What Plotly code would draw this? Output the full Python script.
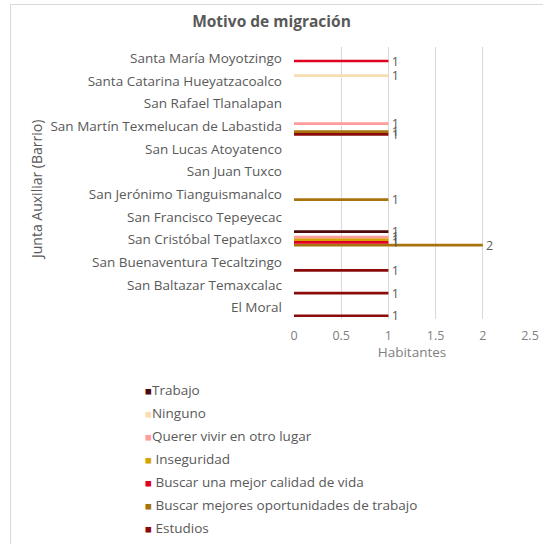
import plotly.graph_objects as go

categories = [
    "El Moral",
    "San Baltazar Temaxcalac",
    "San Buenaventura Tecaltzingo",
    "San Cristóbal Tepatlaxco",
    "San Francisco Tepeyecac",
    "San Jerónimo Tianguismanalco",
    "San Juan Tuxco",
    "San Lucas Atoyatenco",
    "San Martín Texmelucan de Labastida",
    "San Rafael Tlanalapan",
    "Santa Catarina Hueyatzacoalco",
    "Santa María Moyotzingo",
]

# series in plotting order (first = bottom of each group)
series_names = [
    " Estudios",
    " Buscar mejores oportunidades de trabajo",
    " Buscar una mejor calidad de vida",
    " Inseguridad",
    "Querer vivir en otro lugar",
    "Ninguno",
    "Trabajo",
]

estudios       = [1, 1, 1, None, None, None, None, None, 1, None, None, None]
oportunidades  = [None, None, None, 2, None, 1, None, None, 1, None, None, None]
calidad        = [None, None, None, 1, None, None, None, None, None, None, None, 1]
inseguridad    = [None, None, None, 1, None, None, None, None, None, None, None, None]
querer         = [None, None, None, 1, None, None, None, None, 1, None, None, None]
ninguno        = [None, None, None, None, None, None, None, None, None, None, 1, None]
trabajo        = [None, None, None, 1, None, None, None, None, None, None, None, None]

series_values = [estudios, oportunidades, calidad, inseguridad, querer, ninguno, trabajo]
series_colors = ["#8B0A0A", "#A8720C", "#E0001F", "#D6A200", "#FF9C9C", "#F8DDB3", "#4E0A0A"]
legend_ranks = [7, 6, 5, 4, 3, 2, 1]

x_ticks = [0, 0.5, 1, 1.5, 2, 2.5]
x_tick_labels = ["0", "0.5", "1", "1.5", "2", "2.5"]

FONT = "Open Sans"
GRAY = "#595959"

fig = go.Figure()
for name, vals, col, rank in zip(series_names, series_values, series_colors, legend_ranks):
    fig.add_trace(go.Bar(
        y=categories, x=vals, orientation="h", name=name,
        marker=dict(color=col, line=dict(width=0)),
        texttemplate="\u00a0%{x}",
        textposition="outside", constraintext="none", cliponaxis=False,
        textfont=dict(family=FONT, size=12.5, color=GRAY),
        showlegend=False, hoverinfo="x+y+name",
    ))
    legend_label = '<span style="color:%s;font-size:11.5px">■</span>%s' % (col, name)
    fig.add_trace(go.Scatter(
        x=[None], y=[None], mode="markers", name=legend_label,
        marker=dict(symbol="square", size=1, color="rgba(0,0,0,0)"),
        legendgroup=name, legendrank=rank, showlegend=True, hoverinfo="skip",
    ))

W, H = 543, 544
L, R, T, B = 294, 13, 47, 225
pw, ph = W - L - R, H - T - B

def px2paper_x(px):
    return (px - L) / pw

def px2paper_y(py):
    return (H - B - py) / ph

fig.update_layout(
    width=W, height=H,
    margin=dict(l=L, r=R, t=T, b=B, autoexpand=False),
    paper_bgcolor="white", plot_bgcolor="white",
    barmode="group", bargap=0.17, bargroupgap=0,
    font=dict(family=FONT, color=GRAY, size=12),
    title=dict(text="<b>Motivo de migración</b>", x=0.5, xref="container",
               y=1 - 22 / H, yref="container", yanchor="middle", xanchor="center",
               font=dict(family=FONT, size=15.5, color=GRAY)),
    xaxis=dict(range=[0, 2.5], tickvals=x_ticks, ticktext=x_tick_labels,
               showgrid=True, gridcolor="#D9D9D9", gridwidth=1, zeroline=False,
               showline=False, ticks="", ticklabelstandoff=7,
               tickfont=dict(family=FONT, size=12.5, color="#808080"),
               title=dict(text="Habitantes", standoff=5,
                          font=dict(family=FONT, size=13.5, color="#7F7F7F"))),
    yaxis=dict(type="category", categoryorder="array", categoryarray=categories,
               showgrid=False, zeroline=False, showline=False, ticks="",
               ticklabelstandoff=11,
               tickfont=dict(family=FONT, size=13.5, color=GRAY)),
    legend=dict(orientation="v", x=px2paper_x(105), y=px2paper_y(374), xanchor="left", yanchor="top",
                xref="paper", yref="paper", font=dict(family=FONT, size=13.5, color=GRAY),
                tracegroupgap=2.5, itemwidth=30, bgcolor="rgba(0,0,0,0)"),
    showlegend=True,
    annotations=[dict(text="Junta Auxiliar (Barrio)", textangle=-90, showarrow=False,
                      xref="paper", yref="paper", x=px2paper_x(36), y=px2paper_y(190),
                      xanchor="center", yanchor="middle",
                      font=dict(family=FONT, size=14, color=GRAY))],
    shapes=[dict(type="rect", xref="paper", yref="paper",
                 x0=px2paper_x(10.5), x1=px2paper_x(600), y0=px2paper_y(600), y1=px2paper_y(4.5),
                 line=dict(color="#D9D9D9", width=1), fillcolor="rgba(0,0,0,0)", layer="below")],
)

fig.write_html("out.html", config={"displayModeBar": False},
               post_script="document.body.style.margin='0';")
